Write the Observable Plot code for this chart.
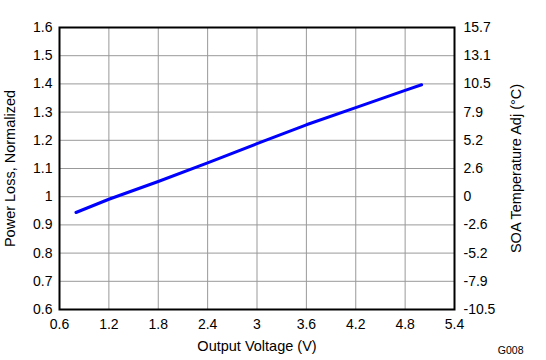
<!DOCTYPE html>
<html><head><meta charset="utf-8">
<script src="https://cdn.jsdelivr.net/npm/d3@7"></script>
<script src="https://cdn.jsdelivr.net/npm/@observablehq/plot@0.6"></script>
<style>body{margin:0;background:#fff;font-family:"Liberation Sans",Arial,sans-serif}</style>
</head><body><div id="chart"></div>
<script>
const voltage = [0.8, 1.2, 1.8, 2.4, 3.0, 3.6, 4.2, 4.8, 5.0];
const powerLoss = [0.944, 0.991, 1.054, 1.12, 1.188, 1.255, 1.316, 1.377, 1.397];
const xTicks = [0.6, 1.2, 1.8, 2.4, 3, 3.6, 4.2, 4.8, 5.4];
const yTicks = [0.6, 0.7, 0.8, 0.9, 1, 1.1, 1.2, 1.3, 1.4, 1.5, 1.6];
const rightLabels = ["-10.5", "-7.9", "-5.2", "-2.6", "0", "2.6", "5.2", "7.9", "10.5", "13.1", "15.7"];

const data = voltage.map((v, i) => ({v, p: powerLoss[i]}));
const fmt = d => String(Math.round(d * 10) / 10);

const chart = Plot.plot({
  width: 546, height: 360,
  marginLeft: 59, marginRight: 92, marginTop: 27, marginBottom: 51,
  style: {fontFamily: '"Liberation Sans", Arial, sans-serif', fontSize: "14px", color: "#000"},
  x: {domain: [0.6, 5.4]},
  y: {domain: [0.6, 1.6]},
  marks: [
    Plot.gridX(xTicks, {stroke: "#999", strokeOpacity: 1, strokeWidth: 1}),
    Plot.gridY(yTicks, {stroke: "#999", strokeOpacity: 1, strokeWidth: 1}),
    Plot.axisX(xTicks, {tickSize: 0, tickPadding: 10, tickFormat: fmt, fontSize: 14, label: null}),
    Plot.axisX({label: "Output Voltage (V)", labelAnchor: "center", labelArrow: "none", labelOffset: 41, fontSize: 14.5, ticks: [], tickSize: 0}),
    Plot.axisY(yTicks, {anchor: "left", tickSize: 0, tickPadding: 7, tickFormat: fmt, fontSize: 14, label: null}),
    Plot.axisY({anchor: "left", label: "Power Loss, Normalized", labelAnchor: "center", labelArrow: "none", labelOffset: 55, fontSize: 14.5, ticks: [], tickSize: 0}),
    Plot.axisY(yTicks, {anchor: "right", tickSize: 0, tickPadding: 9, fontSize: 14,
      tickFormat: (d, i) => rightLabels[i], label: null}),
    Plot.axisY({anchor: "right", label: "SOA Temperature Adj (°C)", labelAnchor: "center", labelArrow: "none", labelOffset: 66, fontSize: 14.5, ticks: [], tickSize: 0}),
    Plot.frame({stroke: "#000", strokeWidth: 2}),
    Plot.line(data, {x: "v", y: "p", stroke: "#0000ff", strokeWidth: 3}),
    Plot.text(["G008"], {frameAnchor: "bottom-right", dx: 69, dy: 44, fontSize: 10.5, text: d => d})
  ]
});
document.getElementById("chart").appendChild(chart);
</script></body></html>
